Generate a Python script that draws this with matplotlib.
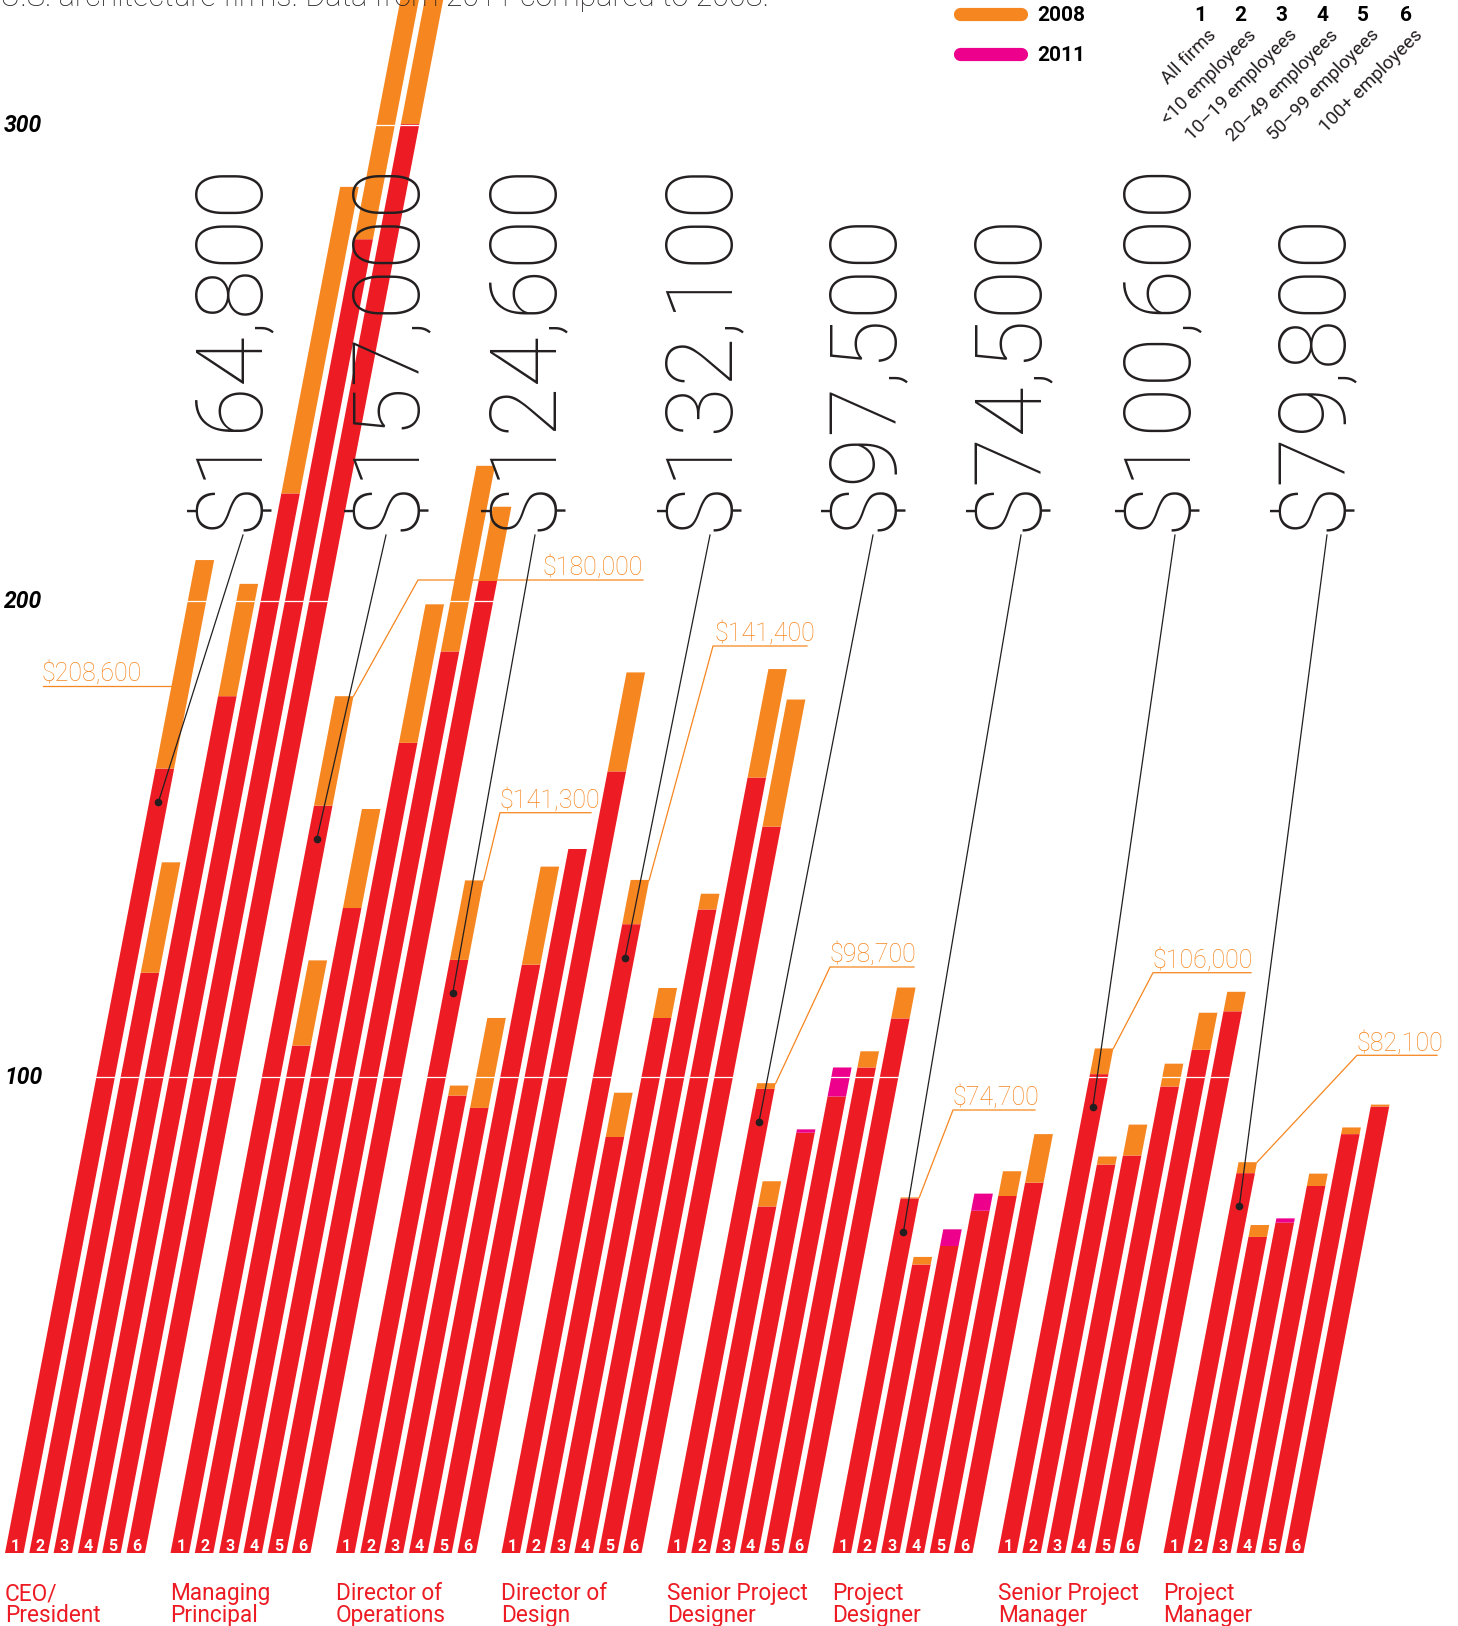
import numpy as np
import matplotlib
matplotlib.use("Agg")
import matplotlib.pyplot as plt
from matplotlib.transforms import Affine2D

# ---------------- data (thousands of US$) ----------------
groups = ["CEO/\nPresident", "Managing\nPrincipal", "Director of\nOperations",
          "Director of\nDesign", "Senior Project\nDesigner", "Project\nDesigner",
          "Senior Project\nManager", "Project\nManager"]
firm_sizes = ["All firms", "<10 employees", "10\u201319 employees",
              "20\u201349 employees", "50\u201399 employees", "100+ employees"]
size_numbers = ["1", "2", "3", "4", "5", "6"]

ceo_2011 = [164.8, 121.9, 180.0, 222.6, 276.0, 300.2]
ceo_2008 = [208.6, 145.1, 203.6, 287.0, 340.0, 350.0]
mp_2011 = [157.0, 106.6, 135.5, 170.2, 189.4, 204.2]
mp_2008 = [180.0, 124.5, 156.3, 199.3, 228.4, 219.8]
dop_2011 = [124.6, 96.1, 93.5, 123.6, 147.9, 164.2]
dop_2008 = [141.3, 98.2, 112.4, 144.2, 147.9, 185.0]
dd_2011 = [132.1, 87.4, 112.4, 135.2, 162.9, 152.6]
dd_2008 = [141.4, 96.7, 118.7, 138.5, 185.7, 179.3]
spd_2011 = [97.5, 72.8, 89.0, 102.0, 102.0, 112.3]
spd_2008 = [98.7, 78.1, 88.3, 95.9, 105.4, 118.8]
pd_2011 = [74.5, 60.6, 68.0, 75.5, 75.0, 77.8]
pd_2008 = [74.7, 62.2, 64.5, 71.9, 80.2, 88.0]
spm_2011 = [100.6, 81.6, 83.5, 98.0, 105.7, 113.8]
spm_2008 = [106.0, 83.3, 90.0, 102.8, 113.5, 117.9]
pm_2011 = [79.8, 66.4, 70.3, 77.1, 88.0, 93.8]
pm_2008 = [82.1, 68.9, 69.4, 79.7, 89.4, 94.2]

y_ticks = [100, 200, 300]
years = ["2008", "2011"]

values_2011 = [ceo_2011, mp_2011, dop_2011, dd_2011, spd_2011, pd_2011, spm_2011, pm_2011]
values_2008 = [ceo_2008, mp_2008, dop_2008, dd_2008, spd_2008, pd_2008, spm_2008, pm_2008]

# ---------------- style / layout ----------------
RED = "#ED1C24"
ORANGE = "#F6861F"
MAGENTA = "#EC008C"
INK = "#231F20"
FONT = ["Roboto", "DejaVu Sans"]

W_PX, H_PX, DPI = 1458, 1626, 100
Z_PX = 1553.0       # pixel row of value 0
S = 4.76            # pixels per $1K
K = 0.192 * S       # horizontal slant (pixels per $1K)
X0, GP, BP, BW = 5.0, 165.5, 24.3, 18.5

def py(row):
    """pixel row -> data y"""
    return (Z_PX - row) / S

fig = plt.figure(figsize=(W_PX / DPI, H_PX / DPI), dpi=DPI)
ax = fig.add_axes([0, 0, 1, 1])
ax.set_xlim(0, W_PX)
ax.set_ylim(py(H_PX), py(0))
ax.axis("off")

skew = Affine2D().skew(np.arctan(K), 0) + ax.transData

# bars
for g in range(len(groups)):
    v11 = np.array(values_2011[g])
    v08 = np.array(values_2008[g])
    lefts = X0 + GP * g + BP * np.arange(6)
    lo = np.minimum(v11, v08)
    ax.bar(lefts, lo, width=BW, align="edge", color=RED, linewidth=0,
           transform=skew, zorder=2)
    ax.bar(lefts, np.maximum(v08 - lo, 0), bottom=lo, width=BW, align="edge",
           color=ORANGE, linewidth=0, transform=skew, zorder=2)
    ax.bar(lefts, np.maximum(v11 - lo, 0), bottom=lo, width=BW, align="edge",
           color=MAGENTA, linewidth=0, transform=skew, zorder=2)
    for i in range(6):
        ax.text(lefts[i] + BW / 2, py(1546), size_numbers[i], transform=skew,
                ha="center", va="center", color="white", fontsize=11.5,
                fontweight="bold", family=FONT, zorder=4)
    ax.text(X0 + GP * g, py(1582), groups[g], ha="left", va="top", color=RED,
            fontsize=16.3, family=FONT, fontweight="normal", linespacing=0.95)

# white gridlines and tick labels
ax.hlines(y_ticks, 80, 1400, color="white", lw=0.9, zorder=3)
for t in y_ticks:
    ax.text(4, t, str(t), ha="left", va="center", fontsize=16.5,
            fontweight="bold", style="italic", color="black", family=FONT, zorder=5)

# big 2011 headline values with leader lines to dots on bar 1
big_x = [232, 389, 526, 702, 866, 1011, 1160, 1315]
line_x = [243, 386, 535, 710, 873, 1021, 1175, 1327]
for g in range(len(groups)):
    v = values_2011[g][0]
    ax.text(big_x[g], py(531), f"${v * 1000:,.0f}", rotation=90, ha="center",
            va="bottom", fontsize=66, family=FONT, fontweight="light",
            color=INK, zorder=5)
    dot_v = v - 7
    cx = X0 + GP * g + BW / 2
    ax.plot([line_x[g], cx + K * dot_v], [py(535), dot_v], color=INK, lw=0.9, zorder=6)
    ax.plot([cx], [dot_v], "o", ms=4.5, color=INK, transform=skew, zorder=7)

# 2008 annotations
ann_x = [42, 543, 500, 715, 830, 953, 1153, 1357]
ann_line_y = [686, 580, 812.7, 646, 967, 1110, 972.7, 1055.3]
ann_line_x0 = [43, 418, 500, 713, 830, 953, 1153, 1357]
ann_line_x1 = [None, 643, 591, 807, 914, 1035, 1251, 1437]
for g in range(len(groups)):
    v = values_2008[g][0]
    ly = py(ann_line_y[g])
    ax.text(ann_x[g], py(ann_line_y[g] - 5), f"${v * 1000:,.0f}", ha="left",
            va="baseline", fontsize=18, family=FONT, fontweight="light",
            color=ORANGE, zorder=5)
    if ann_line_x1[g] is None:
        ax.plot([ann_line_x0[g], X0 + GP * g + K * ly], [ly, ly], color=ORANGE,
                lw=0.9, zorder=5)
    else:
        ax.plot([ann_line_x1[g], ann_line_x0[g], X0 + GP * g + BW + K * v],
                [ly, ly, v], color=ORANGE, lw=0.9, zorder=5)

# legend
for row, col, lab in [(14, ORANGE, years[0]), (54, MAGENTA, years[1])]:
    ax.plot([960, 1021], [py(row), py(row)], color=col, lw=9.5,
            solid_capstyle="round", zorder=5)
    ax.text(1037, py(row + 1.5), lab, ha="left", va="center", fontsize=15,
            fontweight="bold", family=FONT, color="black")

num_x = [1200, 1240, 1281, 1322, 1363, 1406]
for i in range(6):
    ax.text(num_x[i], py(15.5), size_numbers[i], ha="center", va="center",
            fontsize=15, fontweight="bold", family=FONT, color="black")
    ax.text(num_x[i] + 7, py(26), firm_sizes[i], rotation=45, rotation_mode="anchor",
            ha="right", va="top", fontsize=13.5, family=FONT, color=INK)

# partially visible title at the very top (cut by the top edge as in the source)
ax.text(0, py(6), "U.S. architecture firms. Data from 2011 compared to 2008.",
        ha="left", va="baseline", fontsize=22, family=FONT, fontweight="light",
        color=INK)

fig.savefig("out.png", dpi=DPI)
